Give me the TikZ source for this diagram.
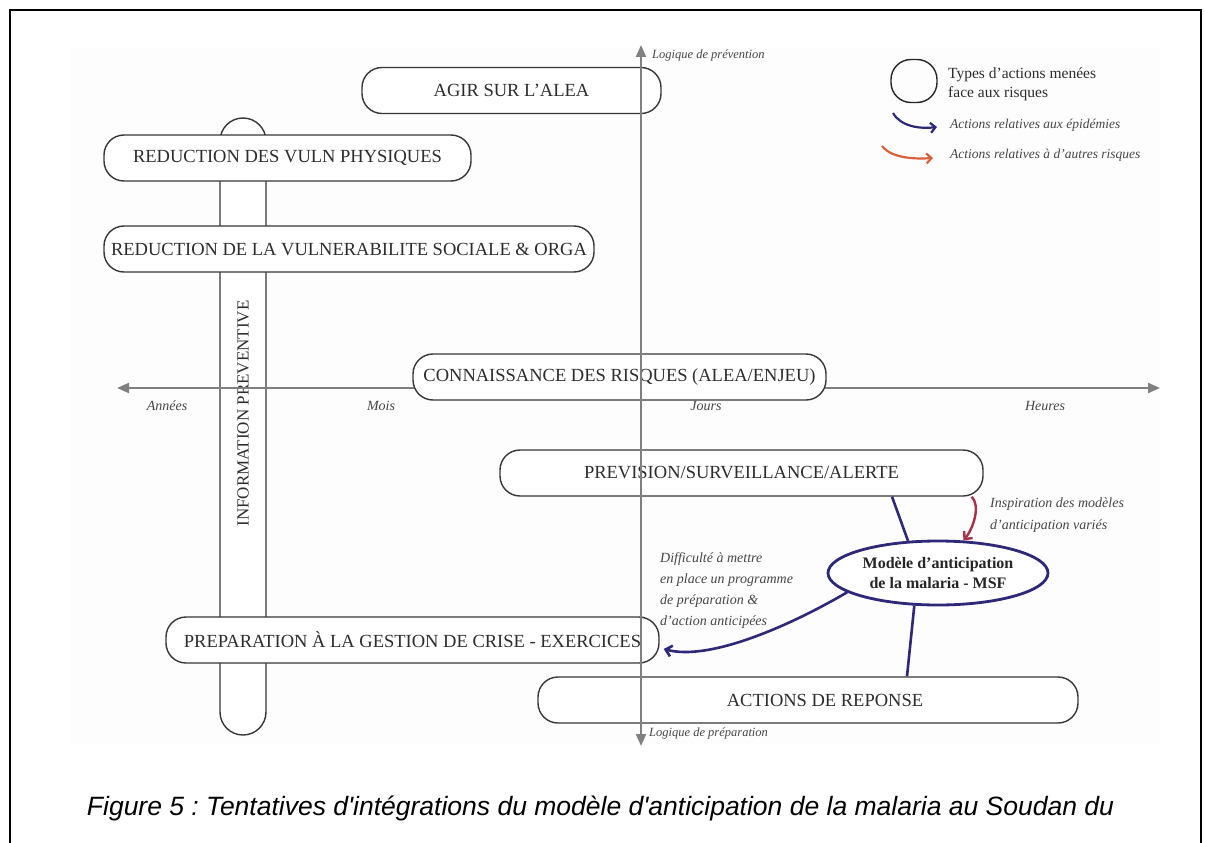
\documentclass[tikz,border=0pt]{standalone}
\usepackage{fontspec}
\setmainfont{Liberation Serif}
\newfontfamily\capfont{Liberation Sans}
\usetikzlibrary{arrows.meta,shapes.geometric}
\frenchspacing
\definecolor{navy}{RGB}{45,40,120}
\definecolor{legorange}{RGB}{216,96,58}
\definecolor{redlink}{RGB}{165,50,75}
\definecolor{axisgray}{RGB}{128,128,128}
\definecolor{boxgray}{RGB}{55,55,55}
\definecolor{textgray}{RGB}{45,45,45}
\definecolor{labgray}{RGB}{70,70,70}
\definecolor{bggray}{RGB}{253,253,253}
\tikzset{
  box/.style={draw=boxgray, line width=1.4pt, fill=white, rounded corners=20pt,
    inner sep=0pt, minimum height=46pt, text=textgray, font=\fontsize{18.5}{20}\selectfont},
  axisline/.style={draw=axisgray, line width=2pt, {Triangle[length=12pt,width=10pt]}-{Triangle[length=12pt,width=10pt]}},
  axlab/.style={text=labgray, font=\fontsize{12.5}{14}\itshape, inner sep=0pt},
  ticklab/.style={text=labgray, font=\fontsize{14}{16}\itshape, inner sep=0pt},
  leglab/.style={text=labgray, font=\fontsize{13.5}{16}\itshape, inner sep=0pt},
  note/.style={text=labgray, font=\fontsize{14}{21.3}\selectfont\itshape, inner sep=0pt, align=left},
  link/.style={draw=navy, line width=2.6pt},
}
\begin{document}
\begin{tikzpicture}[x=1pt,y=-1pt]
\useasboundingbox (0,0) rectangle (1205,843);
\fill[bggray] (70,48) rectangle (1160,745);
\draw[line width=2.5pt] (10,843) -- (10,10) -- (1201,10) -- (1201,843);

% vertical box behind
\node[box, rotate=90, minimum width=617pt, rounded corners=23pt, font=\fontsize{17}{19}\selectfont] (info) at (243,426.5) {\hspace{26pt}INFORMATION PREVENTIVE};

% horizontal axis
\coordinate (L) at (117,388);
\coordinate (R) at (1160,388);
\draw[axisline] (L) -- (R);

% boxes
\node[box, minimum width=299pt] (alea) at (511.5,90.5) {AGIR SUR L'ALEA};
\node[box, minimum width=367pt] (phys) at (287.5,158) {REDUCTION DES VULN PHYSIQUES};
\node[box, minimum width=490pt] (soc) at (349,249) {REDUCTION DE LA VULNERABILITE SOCIALE \& ORGA};
\node[box, minimum width=413pt] (conn) at (619.5,377) {CONNAISSANCE DES RISQUES (ALEA/ENJEU)};
\node[box, minimum width=483pt] (prev) at (741.5,473) {PREVISION/SURVEILLANCE/ALERTE};
\node[box, minimum width=493pt] (prep) at (412.5,640) {PREPARATION À LA GESTION DE CRISE - EXERCICES};
\node[box, minimum width=540pt] (act) at (808,700) {\hspace{34pt}ACTIONS DE REPONSE};

% vertical axis
\coordinate (T) at (641,45);
\coordinate (B) at (641,746);
\draw[axisline] (B) -- (T);

% axis labels
\node[axlab, anchor=west] (lprev) at (652,55) {Logique de prévention};
\node[axlab, anchor=west] (lprep) at (649,733) {Logique de préparation};
\node[ticklab] (ann) at (167,406) {Années};
\node[ticklab] (mois) at (381,406) {Mois};
\node[ticklab] (jours) at (706,406) {Jours};
\node[ticklab] (heures) at (1045,406) {Heures};

% malaria model
\node[ellipse, draw=navy, line width=2.8pt, fill=white, minimum width=220pt, minimum height=64pt, inner sep=0pt, align=center, text=black!85, font=\fontsize{16}{20}\selectfont\bfseries] (msf) at (938,573) {Modèle d'anticipation\\de la malaria - MSF};

% connectors
\draw[link] ([xshift=150.5pt]prev.south) -- (msf.133);
\draw[link] (msf.234) -- ([xshift=99pt]act.north);
\draw[link, -{Straight Barb[length=6pt,width=11pt]}] (msf.192) .. controls +(-60,35) and +(45,12) .. ([shift={(4pt,-9pt)}]prep.east);
\draw[redlink, line width=2.4pt, -{Straight Barb[length=6pt,width=11pt]}] ([xshift=-12pt]prev.south east) .. controls +(9,9) and +(10,-12) .. (msf.52);

% notes
\node[note, anchor=north west] (insp) at (990,498) {Inspiration des modèles\\d'anticipation variés};
\node[note, anchor=north west] (diff) at (660,552) {Difficulté à mettre\\en place un programme\\de préparation \&\\d'action anticipées};

% legend
\node[draw=black!85, line width=1.4pt, minimum width=46pt, minimum height=43pt, rounded corners=20pt] (lgbox) at (914,81) {};
\node[anchor=west, inner sep=0pt, align=left, text=textgray, font=\fontsize{15.5}{19}\selectfont] (lgtxt) at (948,84) {Types d'actions menées\\face aux risques};
\coordinate (la1) at (893,113);
\coordinate (la2) at (937,127);
\draw[navy, line width=2.2pt, -{Straight Barb[length=5pt,width=10pt]}] (la1) .. controls +(8,14) and +(-16,2) .. (la2);
\node[leglab, anchor=west] (lgepi) at (950,125) {Actions relatives aux épidémies};
\coordinate (lb1) at (882,146);
\coordinate (lb2) at (933,158);
\draw[legorange, line width=2.2pt, -{Straight Barb[length=5pt,width=10pt]}] (lb1) .. controls +(10,13) and +(-16,1) .. (lb2);
\node[leglab, anchor=west] (lgaut) at (950,155) {Actions relatives à d'autres risques};

% caption
\node[inner sep=0pt, font=\capfont\fontsize{26.5}{29}\selectfont\itshape] (cap) at (600.5,808) {Figure 5 : Tentatives d\textquotesingle intégrations du modèle d\textquotesingle anticipation de la malaria au Soudan du};
\end{tikzpicture}
\end{document}
